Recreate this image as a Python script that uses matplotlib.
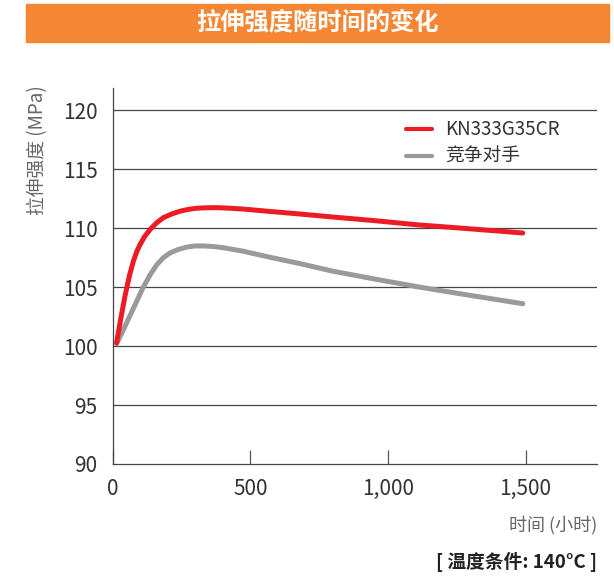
"""Tensile strength over time at 140°C."""

import matplotlib.pyplot as plt
from matplotlib.patches import Rectangle

plt.rcParams["font.family"] = ["Noto Sans CJK SC", "DejaVu Sans"]

# data
red_hours = [13, 28, 44, 60, 74, 86, 98, 115, 135, 158, 183, 212, 244, 274, 304,
             340, 377, 425, 474, 559, 660, 801, 950, 1104, 1300, 1490]
red_mpa = [100.28, 102.3, 104.3, 106.0, 107.2, 108.0, 108.6, 109.3, 109.9, 110.45,
           110.9, 111.2, 111.45, 111.6, 111.7, 111.74, 111.75, 111.7, 111.63, 111.45,
           111.25, 110.95, 110.65, 110.3, 109.95, 109.6]
gray_hours = [13, 38, 62, 86, 110, 135, 159, 183, 207, 237, 268, 298, 328, 365, 401,
              474, 559, 680, 801, 950, 1116, 1300, 1490]
gray_mpa = [100.2, 101.4, 102.6, 103.8, 105.0, 106.05, 106.9, 107.5, 107.9, 108.2,
            108.4, 108.5, 108.5, 108.45, 108.35, 108.05, 107.6, 107.0, 106.35, 105.7,
            105.0, 104.3, 103.6]
series_names = ["KN333G35CR", "竞争对手"]
x_ticks = [0, 500, 1000, 1500]
x_tick_labels = ["0", "500", "1,000", "1,500"]
y_ticks = [90, 95, 100, 105, 110, 115, 120]

RED = "#ed1c24"
GRAY = "#9a9a9c"
ORANGE = "#f58634"
TEXT = "#333333"

fig = plt.figure(figsize=(6.14, 5.81), dpi=100)

# title banner
fig.patches.append(Rectangle((26 / 614, 1 - 42 / 581), (609 - 26) / 614, 38 / 581,
                             transform=fig.transFigure, color=ORANGE, zorder=0))
fig.text(317 / 614, 1 - 23 / 581, "拉伸强度随时间的变化", color="white",
         fontsize=17.5, fontweight="bold", ha="center", va="center")

ax = fig.add_axes([113 / 614, 1 - 464 / 581, (597 - 113) / 614, (464 - 88) / 581])
ax.plot(red_hours, red_mpa, color=RED, lw=3.6, solid_capstyle="round",
        solid_joinstyle="round", label=series_names[0], zorder=3)
ax.plot(gray_hours, gray_mpa, color=GRAY, lw=3.6, solid_capstyle="round",
        solid_joinstyle="round", label=series_names[1], zorder=2)

ax.set_xlim(0, 1760)
ax.set_ylim(90, 121.9)
for y in y_ticks[1:]:
    ax.axhline(y, color="#444444", lw=0.9, zorder=1)

ax.set_xticks(x_ticks)
ax.set_xticklabels(x_tick_labels)
ax.set_yticks(y_ticks)
ax.tick_params(axis="x", direction="in", length=10, width=0.9, color="#555555",
               labelsize=15, labelcolor=TEXT, pad=10)
ax.tick_params(axis="y", length=0, labelsize=15, labelcolor=TEXT, pad=11)
for side in ["top", "right"]:
    ax.spines[side].set_visible(False)
for side in ["left", "bottom"]:
    ax.spines[side].set_color("#444444")
    ax.spines[side].set_linewidth(0.9)

leg = ax.legend(loc="upper left", bbox_to_anchor=(0.59, 0.937), frameon=False,
                fontsize=13.5, handlelength=1.4, handletextpad=0.7, labelspacing=0.32,
                labelcolor=TEXT, borderaxespad=0)
for line in leg.get_lines():
    line.set_linewidth(3)

fig.text(38 / 614, 1 - 150 / 581, "拉伸强度 (MPa)", rotation=90, color="#666666",
         fontsize=13.5, ha="center", va="center")
fig.text(597 / 614, 1 - 525 / 581, "时间 (小时)", color="#666666", fontsize=13,
         ha="right", va="center")
fig.text(597 / 614, 1 - 562 / 581, "[ 温度条件: 140°C ]", color="#222222",
         fontsize=13.5, fontweight="bold", ha="right", va="center")

fig.savefig("out.png", dpi=100)
